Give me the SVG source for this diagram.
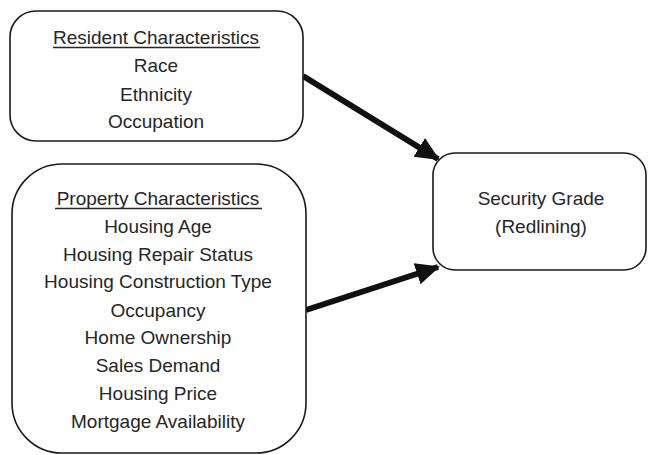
<svg xmlns="http://www.w3.org/2000/svg" width="648" height="455" viewBox="0 0 648 455">
  <style>
    .box { fill: #ffffff; stroke: #1a1a1a; stroke-width: 1.6; }
    .lbl { font-family: "Liberation Sans", Arial, sans-serif; font-size: 19px; fill: #262626; text-anchor: middle; }
    .ul { stroke: #262626; stroke-width: 1.5; }
    .edge { stroke: #111111; stroke-width: 6; fill: none; }
  </style>
  <defs>
    <marker id="arrow" markerUnits="userSpaceOnUse" markerWidth="24" markerHeight="24" viewBox="0 0 24 24" refX="22" refY="12" orient="auto">
      <path d="M0,1 L24,12 L0,23 z" fill="#111111"/>
    </marker>
  </defs>
  <rect width="648" height="455" fill="#ffffff"/>

  <!-- connectors -->
  <g id="connectors">
    <line class="edge" x1="303" y1="76" x2="438" y2="159" marker-end="url(#arrow)"/>
    <line class="edge" x1="306" y1="310" x2="438" y2="267" marker-end="url(#arrow)"/>
  </g>

  <g id="resident">
    <rect class="box" x="10" y="11" width="293" height="130" rx="26" ry="26"/>
    <text class="lbl" x="156" y="44">Resident Characteristics</text>
    <line class="ul" x1="53" y1="47.5" x2="260" y2="47.5"/>
    <text class="lbl" x="156" y="72.3">Race</text>
    <text class="lbl" x="156" y="100.7">Ethnicity</text>
    <text class="lbl" x="156" y="128.3">Occupation</text>
  </g>

  <g id="property">
    <rect class="box" x="12" y="164" width="294" height="289" rx="50" ry="50"/>
    <text class="lbl" x="158" y="205">Property Characteristics</text>
    <line class="ul" x1="55" y1="208.5" x2="262" y2="208.5"/>
    <text class="lbl" x="158" y="232.7">Housing Age</text>
    <text class="lbl" x="158" y="260.7">Housing Repair Status</text>
    <text class="lbl" x="158" y="288.3">Housing Construction Type</text>
    <text class="lbl" x="158" y="316.5">Occupancy</text>
    <text class="lbl" x="158" y="344.3">Home Ownership</text>
    <text class="lbl" x="158" y="372.3">Sales Demand</text>
    <text class="lbl" x="158" y="400">Housing Price</text>
    <text class="lbl" x="158" y="427.7">Mortgage Availability</text>
  </g>

  <g id="security">
    <rect class="box" x="433" y="153" width="213" height="117" rx="22" ry="22"/>
    <text class="lbl" x="541" y="205">Security Grade</text>
    <text class="lbl" x="541" y="233">(Redlining)</text>
  </g>
</svg>
